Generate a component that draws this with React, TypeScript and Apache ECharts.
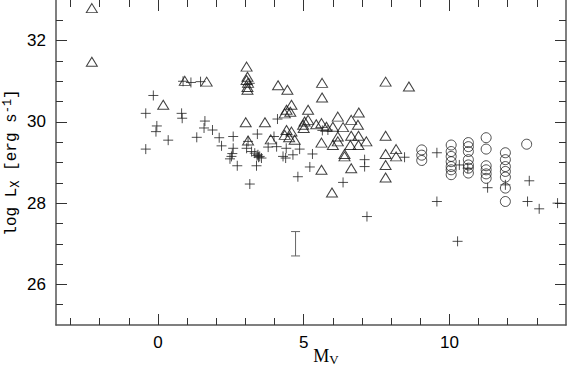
import React, { useEffect, useRef } from 'react';
import * as echarts from 'echarts';

const triangles: [number, number][] = [
  [-2.27, 32.80], [-2.27, 31.48], [0.18, 30.42], [0.92, 31.01], [1.67, 30.99],
  [3.04, 31.36], [3.07, 31.11], [3.04, 31.03], [3.09, 30.96], [3.07, 30.86], [3.07, 30.79],
  [4.12, 30.90], [4.44, 30.79], [5.63, 30.96], [5.63, 30.60], [7.81, 30.99], [8.61, 30.87],
  [4.58, 30.42], [4.41, 30.30], [4.54, 30.25], [4.35, 30.21], [5.15, 30.30],
  [3.01, 29.99], [3.67, 29.99], [5.03, 30.01], [4.98, 29.93], [5.15, 30.05], [5.00, 29.85],
  [5.43, 29.94], [5.61, 29.97], [5.78, 29.88], [6.00, 29.88], [6.17, 30.13], [6.63, 30.05], [6.89, 30.23],
  [6.35, 29.87], [6.86, 29.93],
  [4.41, 29.80], [4.58, 29.76], [4.50, 29.62], [4.69, 29.56], [4.35, 29.68],
  [3.09, 29.54], [3.87, 29.57],
  [5.61, 29.49], [6.00, 29.43], [6.17, 29.52], [6.17, 29.64], [6.63, 29.66], [6.88, 29.66],
  [6.60, 29.43], [6.88, 29.43], [7.15, 29.52],
  [6.40, 29.21], [6.40, 29.15],
  [7.81, 29.66], [7.81, 29.21], [8.17, 29.33], [8.17, 29.15], [7.81, 28.94], [7.81, 28.63],
  [5.61, 28.82], [6.63, 28.86], [5.97, 28.26],
];

const circles: [number, number][] = [
  [9.05, 29.31], [9.05, 29.18], [9.05, 29.05],
  [10.06, 29.43], [10.06, 29.27], [10.06, 29.15], [10.06, 29.02], [10.06, 28.90], [10.06, 28.82], [10.06, 28.70],
  [10.65, 29.49], [10.65, 29.39], [10.65, 29.27], [10.65, 29.07], [10.65, 28.94], [10.65, 28.86], [10.65, 28.74],
  [11.26, 29.61], [11.26, 29.33], [11.26, 28.92], [11.26, 28.82], [11.26, 28.72], [11.26, 28.61],
  [11.92, 29.24], [11.92, 29.07], [11.92, 28.90], [11.92, 28.78], [11.92, 28.64], [11.92, 28.37], [11.92, 28.04],
  [12.65, 29.45],
];

const crosses: [number, number][] = [
  [-0.16, 30.65], [-0.42, 30.21], [-0.04, 29.90], [-0.07, 29.76], [0.35, 29.55], [-0.42, 29.33],
  [0.81, 30.21], [0.83, 30.09], [1.33, 29.62], [0.86, 31.00], [1.13, 30.97], [1.46, 30.99], [3.15, 30.95],
  [1.61, 30.02], [1.58, 29.85], [1.87, 29.80],
  [2.10, 29.61], [2.18, 29.41], [2.58, 29.64], [2.58, 29.35], [2.55, 29.22], [2.52, 29.15], [2.47, 29.09],
  [2.72, 28.92], [3.15, 28.47],
  [3.09, 29.52], [3.04, 29.35], [3.21, 29.27], [3.32, 29.23], [3.40, 29.17], [3.43, 29.19], [3.49, 29.15],
  [3.55, 29.11], [3.45, 29.13],
  [3.41, 29.70], [3.38, 28.92], [3.78, 29.38], [4.07, 29.39], [3.98, 29.64], [4.10, 30.07],
  [4.40, 29.35], [4.29, 29.15], [4.38, 29.11], [4.63, 29.19], [4.80, 28.65], [4.86, 29.33],
  [5.30, 29.21], [5.21, 28.89], [5.64, 29.79], [5.83, 29.80], [6.35, 28.51], [7.09, 29.07], [7.09, 28.90],
  [7.17, 27.67],
  [8.46, 29.13], [9.57, 29.24], [9.57, 28.04], [10.28, 27.06], [10.34, 28.94], [10.63, 28.86],
  [11.31, 28.38], [11.92, 28.45],
  [12.74, 28.55], [12.68, 28.04], [13.08, 27.86], [13.71, 28.00],
];

// [x, low, high]
const errorBar: [number, number, number][] = [[4.72, 26.70, 27.30]];

const xTickValues = [0, 5, 10];
const yTickValues = [26, 28, 30, 32];

export default function App() {
  const ref = useRef<HTMLDivElement>(null);
  useEffect(() => {
    const chart = echarts.init(ref.current!, null, { renderer: 'svg' });
    const lineColor = '#555';
    const tickColor = '#333';
    const xBase = {
      type: 'value',
      min: -3.5,
      max: 14,
      splitNumber: 4,
      splitLine: { show: false },
      minorSplitLine: { show: false },
      axisTick: { show: true, inside: true, length: 11, customValues: xTickValues, lineStyle: { color: tickColor, width: 1 } },
      minorTick: { show: true, splitNumber: 5, length: 7, lineStyle: { color: tickColor, width: 1 } },
    };
    const yBase = {
      type: 'value',
      min: 25,
      max: 33,
      splitNumber: 4,
      splitLine: { show: false },
      minorSplitLine: { show: false },
      axisTick: { show: true, inside: true, length: 11, customValues: yTickValues, lineStyle: { color: tickColor, width: 1 } },
      minorTick: { show: true, splitNumber: 4, length: 7, lineStyle: { color: tickColor, width: 1 } },
    };
    const labelStyle = { fontFamily: 'Liberation Sans', fontSize: 17, color: '#000' };
    chart.setOption({
      animation: false,
      grid: { left: 56, right: 2, top: 0, bottom: 41, containLabel: false, outerBoundsMode: 'none' },
      xAxis: [
        {
          ...xBase,
          position: 'bottom',
          axisLine: { show: true, onZero: false, lineStyle: { color: lineColor, width: 1.5 } },
          axisLabel: { ...labelStyle, margin: 9, customValues: xTickValues },
          name: '{a|M}{s|V}',
          nameLocation: 'middle',
          nameGap: 20,
          nameMoveOverlap: false,
          nameTextStyle: {
            padding: [0, 0, 0, 30],
            rich: {
              a: { fontFamily: 'Liberation Serif', fontSize: 18, color: '#000' },
              s: { fontFamily: 'Liberation Serif', fontSize: 13, color: '#000', padding: [8, 0, 0, 0] },
            },
          },
        },
        {
          ...xBase,
          position: 'top',
          axisLine: { show: false, onZero: false },
          axisLabel: { show: false },
        },
      ],
      yAxis: [
        {
          ...yBase,
          position: 'left',
          axisLine: { show: true, onZero: false, lineStyle: { color: lineColor, width: 1.5 } },
          axisLabel: { ...labelStyle, margin: 10, customValues: yTickValues },
          name: '{a|log L}{s|X}{a| [erg s}{p|-1}{a|]}',
          nameLocation: 'middle',
          nameRotate: 90,
          nameGap: 34,
          nameMoveOverlap: false,
          nameTextStyle: {
            rich: {
              a: { fontFamily: 'Liberation Mono', fontSize: 16, color: '#000' },
              s: { fontFamily: 'Liberation Mono', fontSize: 12, color: '#000', padding: [8, 0, 0, 0] },
              p: { fontFamily: 'Liberation Mono', fontSize: 12, color: '#000', padding: [0, 0, 8, 0] },
            },
          },
        },
        {
          ...yBase,
          position: 'right',
          axisLine: { show: true, onZero: false, lineStyle: { color: lineColor, width: 1.5 } },
          axisLabel: { show: false },
        },
      ],
      series: [
        {
          type: 'scatter',
          data: triangles,
          symbol: 'triangle',
          symbolSize: [11, 9],
          itemStyle: { color: 'rgba(0,0,0,0)', borderColor: '#111', borderWidth: 1 },
        },
        {
          type: 'scatter',
          data: circles,
          symbol: 'circle',
          symbolSize: 10,
          itemStyle: { color: 'rgba(0,0,0,0)', borderColor: '#222', borderWidth: 1 },
        },
        {
          type: 'scatter',
          data: crosses,
          symbol: 'path://M0,5L10,5M5,0L5,10',
          symbolSize: 10,
          itemStyle: { color: 'rgba(0,0,0,0)', borderColor: '#222', borderWidth: 1 },
        },
        {
          type: 'custom',
          data: errorBar,
          renderItem: (params: any, api: any) => {
            const x = api.value(0);
            const lo = api.coord([x, api.value(1)]);
            const hi = api.coord([x, api.value(2)]);
            const half = 4.5;
            const style = { stroke: '#666', lineWidth: 1 };
            return {
              type: 'group',
              children: [
                { type: 'line', shape: { x1: lo[0], y1: lo[1], x2: hi[0], y2: hi[1] }, style },
                { type: 'line', shape: { x1: lo[0] - half, y1: lo[1], x2: lo[0] + half, y2: lo[1] }, style },
                { type: 'line', shape: { x1: hi[0] - half, y1: hi[1], x2: hi[0] + half, y2: hi[1] }, style },
              ],
            };
          },
        },
      ],
    });
    return () => chart.dispose();
  }, []);
  return <div ref={ref} style={{ position: 'absolute', left: 0, top: 0, width: 568, height: 366 }} />;
}
